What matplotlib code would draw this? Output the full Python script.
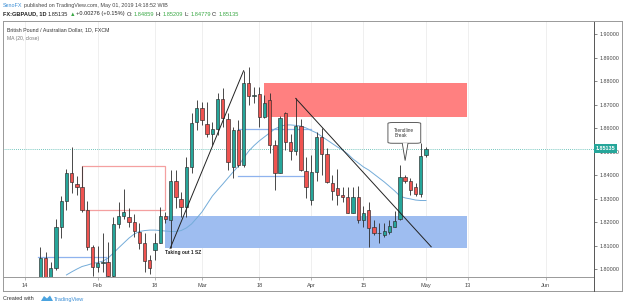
import matplotlib
matplotlib.use('Agg')
import matplotlib.pyplot as plt
import numpy as np
import pandas as pd
from matplotlib.patches import Rectangle, FancyBboxPatch, Polygon
from matplotlib.lines import Line2D
from matplotlib.transforms import blended_transform_factory

W, H = 625, 308
FONT = ['Liberation Sans', 'DejaVu Sans']
plt.rcParams['font.family'] = FONT

# ---------------- data ----------------
first_date = '2019-01-17'
opens = [1.7960, 1.8047, 1.7960, 1.8006, 1.8181, 1.8290, 1.8408, 1.8362, 1.8351, 1.8252,
         1.8093, 1.8008, 1.8027, 1.8031, 1.7972, 1.8192, 1.8226, 1.8223, 1.8199, 1.8159,
         1.8110, 1.8039, 1.8081, 1.8112, 1.8226, 1.8209, 1.8376, 1.8297, 1.8263, 1.8434,
         1.8625, 1.8685, 1.8617, 1.8575, 1.8595, 1.8723, 1.8638, 1.8434, 1.8592, 1.8443,
         1.8791, 1.8737, 1.8746, 1.8649, 1.8720, 1.8529, 1.8411, 1.8664, 1.8543, 1.8503,
         1.8609, 1.8419, 1.8294, 1.8415, 1.8564, 1.8490, 1.8368, 1.8344, 1.8316, 1.8308,
         1.8240, 1.8308, 1.8209, 1.8252, 1.8178, 1.8152, 1.8145, 1.8159, 1.8181, 1.8212,
         1.8391, 1.8376, 1.8351, 1.8320, 1.84859]
highs = [1.8095, 1.8073, 1.8031, 1.8213, 1.8311, 1.8426, 1.8521, 1.8396, 1.8439, 1.8291,
         1.8103, 1.8098, 1.8154, 1.8117, 1.8223, 1.8287, 1.8340, 1.8259, 1.8235, 1.8195,
         1.8152, 1.8060, 1.8152, 1.8266, 1.8244, 1.8422, 1.8422, 1.8330, 1.8479, 1.8664,
         1.8720, 1.8713, 1.8713, 1.8628, 1.8749, 1.8770, 1.8664, 1.8607, 1.8635, 1.8845,
         1.8860, 1.8774, 1.8777, 1.8742, 1.8751, 1.8550, 1.8652, 1.8670, 1.8575, 1.8727,
         1.8638, 1.8479, 1.8486, 1.8585, 1.8600, 1.8515, 1.8401, 1.8425, 1.8351, 1.8351,
         1.8351, 1.8354, 1.8269, 1.8287, 1.8209, 1.8195, 1.8195, 1.8209, 1.8249, 1.8443,
         1.8401, 1.8387, 1.8368, 1.8536, 1.85209]
lows = [1.7950, 1.7955, 1.7950, 1.7998, 1.8132, 1.8252, 1.8324, 1.8316, 1.8243, 1.8081,
        1.7970, 1.7988, 1.7988, 1.7955, 1.7962, 1.8174, 1.8212, 1.8181, 1.8138, 1.8084,
        1.7988, 1.7979, 1.8039, 1.8110, 1.8196, 1.8090, 1.8259, 1.8223, 1.8223, 1.8408,
        1.8592, 1.8614, 1.8564, 1.8529, 1.8571, 1.8607, 1.8422, 1.8387, 1.8436, 1.8436,
        1.8699, 1.8706, 1.8607, 1.8645, 1.8493, 1.8337, 1.8408, 1.8507, 1.8465, 1.8486,
        1.8419, 1.8301, 1.8273, 1.8376, 1.8401, 1.8365, 1.8294, 1.8273, 1.8287, 1.8238,
        1.8238, 1.8195, 1.8181, 1.8093, 1.8145, 1.8110, 1.8138, 1.8149, 1.8178, 1.8209,
        1.8368, 1.8316, 1.8311, 1.8306, 1.84779]
closes = [1.8047, 1.7965, 1.8006, 1.8181, 1.8290, 1.8408, 1.8370, 1.8351, 1.8252, 1.8093,
          1.8008, 1.8027, 1.8031, 1.7972, 1.8192, 1.8226, 1.8244, 1.8199, 1.8163, 1.8110,
          1.8034, 1.8003, 1.8112, 1.8226, 1.8212, 1.8376, 1.8306, 1.8263, 1.8434, 1.8624,
          1.8685, 1.8635, 1.8575, 1.8597, 1.8723, 1.8642, 1.8457, 1.8592, 1.8443, 1.8791,
          1.8737, 1.8741, 1.8649, 1.8709, 1.8529, 1.8411, 1.8642, 1.8543, 1.8503, 1.8609,
          1.8422, 1.8351, 1.8415, 1.8564, 1.8490, 1.8372, 1.8334, 1.8316, 1.8308, 1.8240,
          1.8308, 1.8209, 1.8240, 1.8174, 1.8152, 1.8153, 1.8162, 1.8183, 1.8206, 1.8391,
          1.8376, 1.8337, 1.8320, 1.8482, 1.85135]
# MA(20, close) as drawn, starting at the 6th candle
ma_offset = 5
ma_values = [1.7975, 1.7988, 1.8000, 1.8011, 1.8017, 1.8024, 1.8028, 1.8034, 1.8047, 1.8068,
             1.8090, 1.8111, 1.8132, 1.8149, 1.8160, 1.8164, 1.8166, 1.8166, 1.8164, 1.8162,
             1.8160, 1.8160, 1.8164, 1.8175, 1.8192, 1.8217, 1.8243, 1.8277, 1.8311, 1.8337,
             1.8362, 1.8388, 1.8414, 1.8439, 1.8473, 1.8503, 1.8526, 1.8546, 1.8563, 1.8580,
             1.8597, 1.8607, 1.8614, 1.8614, 1.8612, 1.8609, 1.8601, 1.8590, 1.8580, 1.8565,
             1.8550, 1.8535, 1.8520, 1.8507, 1.8490, 1.8469, 1.8452, 1.8435, 1.8422, 1.8405,
             1.8388, 1.8371, 1.8352, 1.8333, 1.8311, 1.8303, 1.8299, 1.8294, 1.8292, 1.8292]
last_price = 1.85135
price_ticks = [1.80, 1.81, 1.82, 1.83, 1.84, 1.85, 1.86, 1.87, 1.88, 1.89, 1.90]
tick_dates = ['2019-01-14', '2019-02-01', '2019-02-18', '2019-03-01', '2019-03-18',
              '2019-04-01', '2019-04-15', '2019-05-01', '2019-05-13', '2019-06-03']
tick_labels = ['14', 'Feb', '18', 'Mar', '18', 'Apr', '15', 'May', '13', 'Jun']

# drawings (x in trading-day index from 2019-01-14, y in price)
supply_zone = (45.9, 84.9, 1.8649, 1.8791)
demand_zone = (26.9, 84.9, 1.8089, 1.8226)
pink_box = (11.0, 27.0, 1.8253, 1.8440)
blue_box_top = (41.0, 55.0, 1.8595)
blue_box_bottom = (41.0, 53.5, 1.8397)
blue_box_low = (2.5, 15.5, 1.8050)
rise_line = ([27.9, 42.0], [1.8088, 1.8845])
fall_line = ([52.0, 78.0], [1.8727, 1.8095])
callout_box = (69.7, 76.0, 1.8536, 1.8624)
callout_tip = (73.0, 1.8462)

# ---------------- figure ----------------
fig = plt.figure(figsize=(W / 100, H / 100), dpi=100)
fig.patch.set_facecolor('white')

def fx(px):
    return px / W

def fy(py):
    return 1 - py / H

L_PX, R_PX, T_PX, B_PX = 3, 594, 21, 277
ax = fig.add_axes([fx(L_PX), fy(B_PX), fx(R_PX) - fx(L_PX), fy(T_PX) - fy(B_PX)])
ax.set_facecolor('white')

base = pd.Timestamp('2019-01-14')
allb = pd.bdate_range(base, '2019-07-31')
pos_of = {d: i for i, d in enumerate(allb)}
dates = pd.bdate_range(first_date, periods=len(opens))
x = np.array([pos_of[d] for d in dates])

o = np.array(opens); c = np.array(closes); hi = np.array(highs); lo = np.array(lows)
up = c >= o
up_col, dn_col, edge = '#26a69a', '#ef5350', '#2b2b2b'

# zones
for (x0, x1, y0, y1), col in [(supply_zone, '#ff8080'), (demand_zone, '#9ebdf0')]:
    ax.add_patch(Rectangle((x0, y0), x1 - x0, y1 - y0, facecolor=col, edgecolor='none', zorder=1))

# outline boxes
px0, px1, py0, py1 = pink_box
ax.add_patch(Rectangle((px0, py0), px1 - px0, py1 - py0, facecolor='none',
                       edgecolor='#f4a0a0', lw=0.9, zorder=1.5))
ax.plot([blue_box_top[0], blue_box_top[1]], [blue_box_top[2]] * 2, color='#8fb3ee', lw=0.9, zorder=1.5)
ax.plot([blue_box_bottom[0], blue_box_bottom[1]], [blue_box_bottom[2]] * 2, color='#8fb3ee', lw=0.9, zorder=1.5)
ax.plot([blue_box_low[0], blue_box_low[1]], [blue_box_low[2]] * 2, color='#8fb3ee', lw=0.9, zorder=1.5)
ax.plot([blue_box_low[1], blue_box_low[1]], [blue_box_low[2], 1.79], color='#8fb3ee', lw=0.9, zorder=1.5)

# candles
ax.vlines(x, lo, hi, color=edge, lw=0.6, zorder=3)
bottoms = np.minimum(o, c)
heights = np.maximum(np.abs(c - o), 0.00012)
ax.bar(x, heights, bottom=bottoms, width=0.64, color=np.where(up, up_col, dn_col),
       edgecolor=edge, linewidth=0.45, zorder=4)

# MA
ax.plot(x[ma_offset:ma_offset + len(ma_values)], ma_values, color='#74acd9', lw=0.7, zorder=2)

# trend lines
ax.plot(rise_line[0], rise_line[1], color='#222222', lw=0.7, zorder=5)
ax.plot(fall_line[0], fall_line[1], color='#222222', lw=0.7, zorder=5)

# last price line
ax.axhline(last_price, color='#26a69a', lw=0.6, ls=(0, (1, 1.5)), alpha=0.85, zorder=2)

# annotation text
ax.text(27.0, 1.8072, 'Taking out 1 SZ', fontsize=3.5, fontweight='bold', color='#222',
        va='center', ha='left', zorder=6)

# callout
cx0, cx1, cy0, cy1 = callout_box
tipx, tipy = callout_tip
ax.add_patch(FancyBboxPatch((cx0, cy0), cx1 - cx0, cy1 - cy0,
                            boxstyle='round,pad=0,rounding_size=0.9', mutation_aspect=0.0004,
                            facecolor='white', edgecolor='#444', lw=0.6, zorder=6))
ax.add_patch(Polygon([[tipx - 0.55, cy0 + 0.00005], [tipx, tipy], [tipx + 0.55, cy0 + 0.00005]],
                     closed=False, facecolor='white', edgecolor='#444', lw=0.6, zorder=6))
ax.text(cx0 + 1.2, (cy0 + cy1) / 2, 'Trendline\nBreak', fontsize=3.4, color='#333',
        va='center', ha='left', linespacing=1.0, zorder=7)

# axes
ax.set_xlim(-4.18, 109.25)
ax.set_ylim(1.79662, 1.90567)
tick_pos = [pos_of[pd.Timestamp(d)] for d in tick_dates]
ax.set_xticks(tick_pos)
ax.set_xticklabels(tick_labels)
ax.grid(axis='x', color='#ececec', lw=0.6, zorder=0)
ax.set_axisbelow(True)
ax.yaxis.tick_right()
ax.set_yticks(price_ticks)
ax.set_yticklabels(['%.5f' % v for v in price_ticks])
ax.tick_params(axis='y', length=2.5, width=0.5, color='#555', labelsize=3.9, labelcolor='#444', pad=1.5)
ax.tick_params(axis='x', length=2, width=0.5, color='#999', labelsize=4.1, labelcolor='#444', pad=2.5)
for s in ['top', 'left']:
    ax.spines[s].set_visible(False)
ax.spines['right'].set_color('#555')
ax.spines['right'].set_linewidth(0.7)
ax.spines['bottom'].set_color('#999')
ax.spines['bottom'].set_linewidth(0.7)

# last price box
tr = blended_transform_factory(ax.transAxes, ax.transData)
ax.text(1.003, last_price, '1.85135', transform=tr, fontsize=3.9, color='white', fontweight='bold',
        va='center', ha='left', zorder=10, clip_on=False,
        bbox=dict(boxstyle='square,pad=0.3', facecolor='#26a69a', edgecolor='none'))

# frame lines (figure level)
def hline(py, x0, x1, col='#999', lw=0.7):
    fig.add_artist(Line2D([fx(x0), fx(x1)], [fy(py), fy(py)], color=col, lw=lw))

def vline(px, y0, y1, col='#999', lw=0.7):
    fig.add_artist(Line2D([fx(px), fx(px)], [fy(y0), fy(y1)], color=col, lw=lw))

hline(21, 3, 622)
hline(291, 3, 622)
vline(3, 21, 291)
vline(622, 21, 291)
vline(R_PX, 277, 291, col='#555')

# inner chart titles
ax.text(0.007, 0.965, 'British Pound / Australian Dollar, 1D, FXCM', transform=ax.transAxes,
        fontsize=3.8, color='#333', va='center', ha='left')
ax.text(0.007, 0.93, 'MA (20, close)', transform=ax.transAxes,
        fontsize=3.6, color='#777', va='center', ha='left')

# header
renderer = fig.canvas.get_renderer()

def seq(x_px, y_px, parts, size):
    xp = x_px
    for s, col, wt in parts:
        t = fig.text(fx(xp), fy(y_px), s, color=col, fontsize=size, fontweight=wt,
                     va='center', ha='left')
        bb = t.get_window_extent(renderer=renderer)
        xp = bb.x1 + 1.3

seq(3, 5.5, [('SenoFX', '#3d8fd6', 'normal'),
             ('published on TradingView.com, May 01, 2019 14:18:52 WIB', '#444', 'normal')], 3.9)
G = '#3aa845'
seq(3, 14, [('FX:GBPAUD, 1D', '#222', 'bold'), ('1.85135', '#222', 'normal'),
            ('\u25b2', G, 'normal'), ('+0.00276 (+0.15%)', '#222', 'normal'),
            ('O:', '#222', 'normal'), ('1.84859', G, 'normal'),
            ('H:', '#222', 'normal'), ('1.85209', G, 'normal'),
            ('L:', '#222', 'normal'), ('1.84779', G, 'normal'),
            ('C:', '#222', 'normal'), ('1.85135', G, 'normal')], 4.1)

# footer
fig.text(fx(3), fy(299), 'Created with', fontsize=4.0, color='#333', va='center', ha='left')
fig.add_artist(Polygon([[fx(41), fy(301)], [fx(44), fy(296)], [fx(47), fy(298.5)],
                        [fx(50), fy(295.5)], [fx(53), fy(301)]], closed=True,
                       facecolor='#4aa3df', edgecolor='none'))
fig.text(fx(54), fy(299), 'TradingView', fontsize=4.0, color='#3d8fd6', va='center', ha='left')

fig.savefig('out.png', dpi=100, facecolor='white')
